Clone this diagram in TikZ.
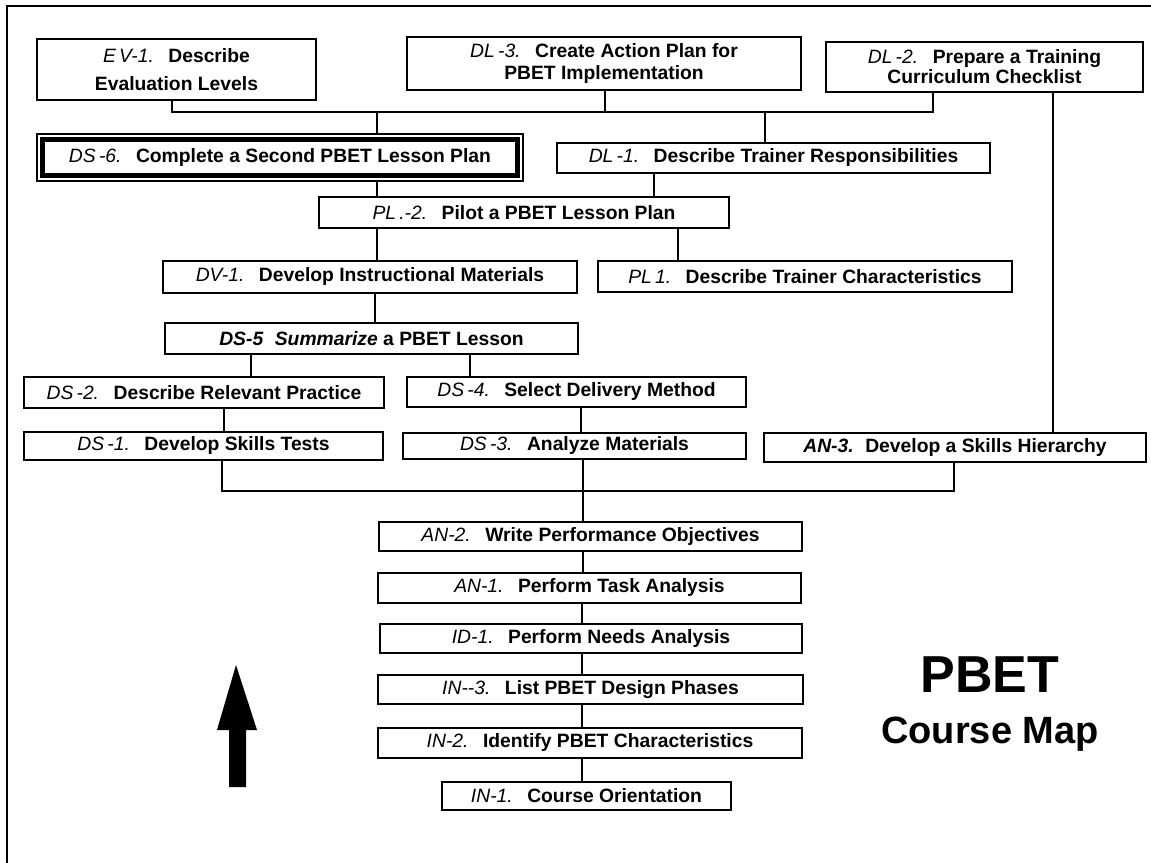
\documentclass[tikz,border=0pt]{standalone}
\usepackage{fontspec}
\setmainfont{Liberation Sans}
\newcommand{\cd}[1]{{\mdseries\itshape #1}\hspace{0.75em}}
\newcommand{\cdb}[1]{{\itshape #1}\hspace{0.6em}}
\begin{document}
\begin{tikzpicture}[x=1pt,y=-1pt,
  box/.style={draw=black, line width=1.6pt, rectangle, inner sep=0pt, fill=white,
    font=\fontsize{19.3}{22}\selectfont\bfseries, align=center},
  conn/.style={draw=black, line width=1.6pt},
  frame/.style={draw=black, line width=2pt}]
\useasboundingbox (0,0) rectangle (1151,862);
\draw[frame] (6.5,870) -- (6.5,5.5) -- (1160,5.5);

% row 1
\node[box, minimum width=279pt, minimum height=61pt, font=\fontsize{19.3}{28}\selectfont\bfseries] (ev1) at (176.5,69.5) {\cd{E\,V-1.}Describe\\Evaluation Levels};
\node[box, minimum width=394pt, minimum height=53pt, font=\fontsize{19.3}{22}\selectfont\bfseries] (dl3) at (604,63.5) {\cd{DL\,-3.}Create Action Plan for\\PBET Implementation};
\node[box, minimum width=317pt, minimum height=50pt, font=\fontsize{19.3}{20}\selectfont\bfseries] (dl2) at (984.5,67) {\cd{DL\,-2.}Prepare a Training\\Curriculum Checklist};

% row 2
\node[box, line width=1.2pt, minimum width=486pt, minimum height=47pt] (ds6) at (280,157.5) {\cd{DS\,-6.}Complete a Second PBET Lesson Plan};
\draw[line width=4.5pt] ([shift={(6,6)}]ds6.north west) rectangle ([shift={(-6,-6)}]ds6.south east);
\node[box, minimum width=433pt, minimum height=30pt] (dl1) at (773.5,158) {\cd{DL\,-1.}Describe Trainer Responsibilities};

\node[box, minimum width=410pt, minimum height=31pt] (pl2) at (524,212.5) {\cd{PL\,.-2.}Pilot a PBET Lesson Plan};
\node[box, minimum width=414pt, minimum height=32pt] (dv1) at (370,277) {\cd{DV-1.}Develop Instructional Materials};
\node[box, minimum width=414pt, minimum height=31pt] (pl1) at (805,276.5) {\cd{PL\,1.}Describe Trainer Characteristics};
\node[box, minimum width=413pt, minimum height=31pt] (ds5) at (371.5,338.5) {\cdb{DS-5}\textit{Summarize} a PBET Lesson};
\node[box, minimum width=360pt, minimum height=31pt] (ds2) at (204,392.5) {\cd{DS\,-2.}Describe Relevant Practice};
\node[box, minimum width=339pt, minimum height=30pt] (ds4) at (576.5,392) {\cd{DS\,-4.}Select Delivery Method};
\node[box, minimum width=359pt, minimum height=28pt] (ds1) at (203.5,446) {\cd{DS\,-1.}Develop Skills Tests};
\node[box, minimum width=343pt, minimum height=26pt] (ds3) at (574.5,446) {\cd{DS\,-3.}Analyze Materials};
\node[box, minimum width=382pt, minimum height=29pt] (an3) at (955,447.5) {\cdb{AN-3.}Develop a Skills Hierarchy};

\node[box, minimum width=423pt, minimum height=29pt] (an2) at (590.5,536.5) {\cd{AN-2.}Write Performance Objectives};
\node[box, minimum width=423pt, minimum height=30pt] (an1) at (589.5,588) {\cd{AN-1.}Perform Task Analysis};
\node[box, minimum width=422pt, minimum height=29pt] (id1) at (591,638.5) {\cd{ID-1.}Perform Needs Analysis};
\node[box, minimum width=425pt, minimum height=29pt] (in3) at (590.5,689.5) {\cd{IN-{}-3.}List PBET Design Phases};
\node[box, minimum width=424pt, minimum height=30pt] (in2) at (590,743) {\cd{IN-2.}Identify PBET Characteristics};
\node[box, minimum width=289pt, minimum height=28pt] (in1) at (586.5,796) {\cd{IN-1.}Course Orientation};

% connectors
\draw[conn] (172,0 |- ev1.south) -- (172,112) -- (933,112) -- (933,0 |- dl2.south);
\draw[conn] (605,0 |- dl3.south) -- (605,112);
\draw[conn] (377,112) -- (377,0 |- ds6.north);
\draw[conn] (765,112) -- (765,0 |- dl1.north);
\draw[conn] (1053,0 |- dl2.south) -- (1053,0 |- an3.north);
\draw[conn] (377,0 |- ds6.south) -- (377,0 |- pl2.north);
\draw[conn] (654,0 |- dl1.south) -- (654,0 |- pl2.north);
\draw[conn] (377,0 |- pl2.south) -- (377,0 |- dv1.north);
\draw[conn] (678,0 |- pl2.south) -- (678,0 |- pl1.north);
\draw[conn] (375,0 |- dv1.south) -- (375,0 |- ds5.north);
\draw[conn] (251,0 |- ds5.south) -- (251,0 |- ds2.north);
\draw[conn] (470,0 |- ds5.south) -- (470,0 |- ds4.north);
\draw[conn] (224,0 |- ds2.south) -- (224,0 |- ds1.north);
\draw[conn] (581,0 |- ds4.south) -- (581,0 |- ds3.north);
\draw[conn] (222,0 |- ds1.south) -- (222,491) -- (954,491) -- (954,0 |- an3.south);
\draw[conn] (583,0 |- ds3.south) -- (583,0 |- an2.north);
\draw[conn] (583,0 |- an2.south) -- (583,0 |- an1.north);
\draw[conn] (582,0 |- an1.south) -- (582,0 |- id1.north);
\draw[conn] (582,0 |- id1.south) -- (582,0 |- in3.north);
\draw[conn] (582,0 |- in3.south) -- (582,0 |- in2.north);
\draw[conn] (582,0 |- in2.south) -- (582,0 |- in1.north);

% arrow
\fill[black] (236,665) -- (257,730) -- (246,730) -- (246,787) -- (229,787) -- (229,730) -- (217,730) -- cycle;

% title
\node[anchor=base, font=\fontsize{52}{52}\selectfont\bfseries] (t1) at (990,692) {PBET};
\node[anchor=base, font=\fontsize{38}{38}\selectfont\bfseries] (t2) at (990,743) {Course Map};
\end{tikzpicture}
\end{document}
